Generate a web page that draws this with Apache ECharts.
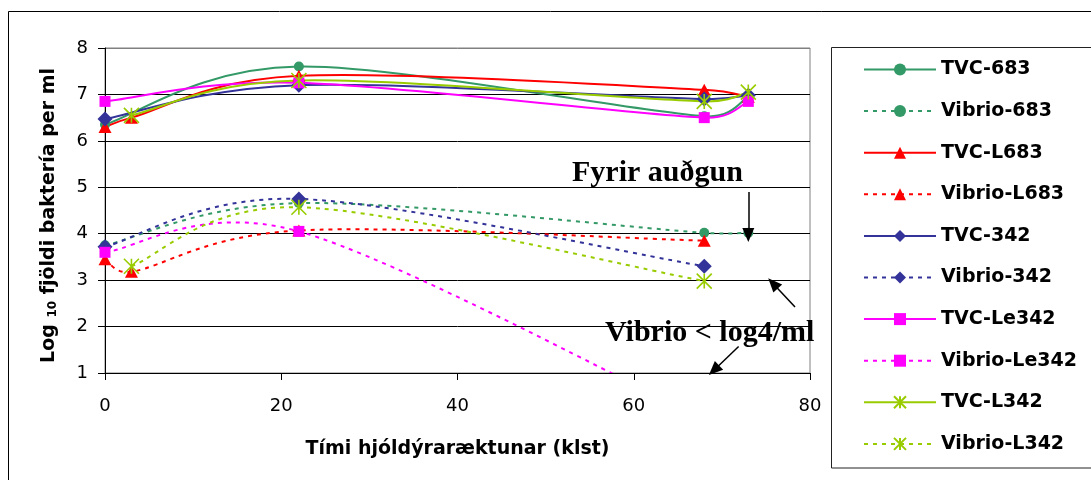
<!DOCTYPE html>
<html>
<head>
<meta charset="utf-8">
<script src="https://cdn.jsdelivr.net/npm/echarts@6/dist/echarts.min.js"></script>
<style>
  html, body { margin: 0; padding: 0; background: #fff; }
  #chart { width: 1091px; height: 480px; }
</style>
</head>
<body>
<div id="chart"></div>
<script>
// hours of cultivation and log10 counts
const tvc683 = [[0, 6.35], [22, 7.6], [68, 6.53], [73, 6.95]]
const vibrio683 = [[0, 3.75], [22, 4.66], [68, 4.02], [73, 4.02]]
const tvcL683 = [[0, 6.3], [3, 6.5], [22, 7.4], [68, 7.1], [73, 6.95]]
const vibrioL683 = [[0, 3.45], [3, 3.18], [22, 4.07], [68, 3.85]]
const tvc342 = [[0, 6.47], [22, 7.2], [68, 6.9], [73, 6.98]]
const vibrio342 = [[0, 3.72], [22, 4.75], [68, 3.3]]
const tvcLe342 = [[0, 6.85], [22, 7.25], [68, 6.5], [73, 6.85]]
const vibrioLe342 = [[0, 3.6], [22, 4.05], [68, 0]]
const tvcL342 = [[3, 6.55], [22, 7.3], [68, 6.85], [73, 7.05]]
const vibrioL342 = [[3, 3.3], [22, 4.57], [68, 2.98]]

// annotation arrows, [from, to] in data units
const arrows = [
  [[73, 4.9], [73, 3.97]],
  [[78.3, 2.42], [75.8, 2.93]],
  [[71.9, 1.57], [69.1, 1.06]]
]

const GREEN = '#339966', RED = '#FF0000', NAVY = '#333399', PINK = '#FF00FF', LIME = '#99CC00'
const ASTERISK = 'path://M0,0L12,12M12,0L0,12M6,0L6,12'
const DASH = [4, 5]

const curves = [
  { name: 'TVC-683', data: tvc683, color: GREEN, symbol: 'circle', size: 10, dashed: false },
  { name: 'Vibrio-683', data: vibrio683, color: GREEN, symbol: 'circle', size: 10, dashed: true },
  { name: 'TVC-L683', data: tvcL683, color: RED, symbol: 'triangle', size: [13, 12], dashed: false },
  { name: 'Vibrio-L683', data: vibrioL683, color: RED, symbol: 'triangle', size: [13, 12], dashed: true },
  { name: 'TVC-342', data: tvc342, color: NAVY, symbol: 'diamond', size: 15, dashed: false },
  { name: 'Vibrio-342', data: vibrio342, color: NAVY, symbol: 'diamond', size: 15, dashed: true },
  { name: 'TVC-Le342', data: tvcLe342, color: PINK, symbol: 'rect', size: 11, dashed: false },
  { name: 'Vibrio-Le342', data: vibrioLe342, color: PINK, symbol: 'rect', size: 11, dashed: true },
  { name: 'TVC-L342', data: tvcL342, color: LIME, symbol: ASTERISK, size: 15, dashed: false },
  { name: 'Vibrio-L342', data: vibrioL342, color: LIME, symbol: ASTERISK, size: 15, dashed: true }
]

// the line series carry the markers and the legend; their own stroke is hidden
// because echarts clamps smoothing, the curves are drawn by the custom series below
const series = curves.map(c => ({
  name: c.name,
  type: 'line',
  data: c.data,
  symbol: c.symbol,
  symbolSize: c.size,
  showAllSymbol: true,
  lineStyle: { color: c.color, width: 2, type: c.dashed ? DASH : 'solid', opacity: 0 },
  itemStyle: c.symbol === ASTERISK
    ? { color: c.color, borderColor: c.color, borderWidth: 1.6 }
    : { color: c.color },
  z: 3
}))

// excel style smoothing: bezier with control points at (next - prev) / 6,
// shortened when a segment is short compared to its neighbours
const handle = (from, a, b, segLen) => {
  let dx = (b[0] - a[0]) / 6, dy = (b[1] - a[1]) / 6
  const len = Math.hypot(dx, dy), max = segLen * 0.6
  if (len > max) { dx *= max / len; dy *= max / len }
  return [dx, dy]
}

const smoothPath = pts => {
  let d = `M${pts[0][0]},${pts[0][1]}`
  for (let i = 0; i < pts.length - 1; i++) {
    const p0 = pts[Math.max(i - 1, 0)], p1 = pts[i], p2 = pts[i + 1], p3 = pts[Math.min(i + 2, pts.length - 1)]
    const seg = Math.hypot(p2[0] - p1[0], p2[1] - p1[1])
    const h1 = handle(p1, p0, p2, seg), h2 = handle(p2, p1, p3, seg)
    d += ` C${p1[0] + h1[0]},${p1[1] + h1[1]} ${p2[0] - h2[0]},${p2[1] - h2[1]} ${p2[0]},${p2[1]}`
  }
  return d
}

series.push({
  type: 'custom',
  coordinateSystem: 'cartesian2d',
  clip: true,
  silent: true,
  z: 2,
  encode: { x: 0, y: 1 },
  data: curves.map(c => c.data[0]),
  renderItem: (params, api) => {
    const c = curves[params.dataIndex]
    return {
      type: 'path',
      shape: { pathData: smoothPath(c.data.map(p => api.coord(p))) },
      style: { fill: 'none', stroke: c.color, lineWidth: 2, lineDash: c.dashed ? DASH : null }
    }
  }
})

series.push({
  type: 'line',
  data: [],
  silent: true,
  markLine: {
    silent: true,
    symbol: ['none', 'triangle'],
    symbolSize: [12, 14],
    label: { show: false },
    lineStyle: { color: '#000', width: 1.5, type: 'solid' },
    emphasis: { disabled: true },
    data: arrows.map(([a, b]) => [{ coord: a }, { coord: b }])
  }
})

const chart = echarts.init(document.getElementById('chart'))
chart.setOption({
  animation: false,
  textStyle: { fontFamily: 'DejaVu Sans' },
  grid: {
    left: 105, right: 281, top: 48, bottom: 107,
    show: true, borderColor: '#808080', borderWidth: 1,
    outerBoundsMode: 'none'
  },
  xAxis: {
    type: 'value',
    min: 0, max: 80, interval: 20,
    name: 'Tími hjóldýraræktunar (klst)',
    nameLocation: 'middle',
    nameGap: 67,
    nameTextStyle: { color: '#000', fontSize: 19, fontWeight: 'bold', fontFamily: 'DejaVu Sans' },
    axisLine: { lineStyle: { color: '#000', width: 1 } },
    axisTick: { show: true, length: 7, lineStyle: { color: '#000' } },
    axisLabel: { color: '#000', fontSize: 18, margin: 24, fontFamily: 'DejaVu Sans' },
    splitLine: { show: false }
  },
  yAxis: {
    type: 'value',
    min: 1, max: 8, interval: 1,
    name: 'Log {sub|10} fjöldi baktería per ml',
    nameLocation: 'middle',
    nameGap: 46,
    nameTextStyle: {
      color: '#000', fontSize: 19, fontWeight: 'bold', fontFamily: 'DejaVu Sans',
      padding: [0, 10, 0, 0],
      rich: { sub: { fontSize: 12, fontWeight: 'bold', fontFamily: 'DejaVu Sans', color: '#000', padding: [6, 0, 0, 0] } }
    },
    axisLine: { show: true, lineStyle: { color: '#000', width: 1 } },
    axisTick: { show: true, length: 7, lineStyle: { color: '#000' } },
    axisLabel: { color: '#000', fontSize: 18, margin: 17, fontFamily: 'DejaVu Sans' },
    splitLine: {
      show: true,
      lineStyle: { color: ['#000', '#000', '#000', '#000', '#000', '#000', '#000', '#808080'], width: 1 }
    }
  },
  legend: {
    orient: 'vertical',
    left: 863,
    top: 60,
    padding: 0,
    itemWidth: 72,
    itemHeight: 15,
    itemGap: 22.6,
    data: curves.map(c => c.name),
    lineStyle: { opacity: 1 },
    textStyle: { color: '#000', fontSize: 19, fontWeight: 'bold', fontFamily: 'DejaVu Sans', lineHeight: 19 }
  },
  graphic: [
    {
      type: 'rect', silent: true, z: -10,
      shape: { x: 8.5, y: 11.5, width: 1200, height: 600 },
      style: { fill: 'none', stroke: '#000', lineWidth: 1 }
    },
    {
      type: 'rect', silent: true, z: -10,
      shape: { x: 831.5, y: 47.5, width: 400, height: 420.5 },
      style: { fill: 'none', stroke: '#222', lineWidth: 1 }
    },
    {
      type: 'text', silent: true, left: 572, top: 158,
      style: { text: 'Fyrir auðgun', fill: '#000', font: 'bold 30px "Liberation Serif"' }
    },
    {
      type: 'text', silent: true, left: 605, top: 318,
      style: { text: 'Vibrio < log4/ml', fill: '#000', font: 'bold 30px "Liberation Serif"' }
    }
  ],
  series
})
</script>
</body>
</html>
